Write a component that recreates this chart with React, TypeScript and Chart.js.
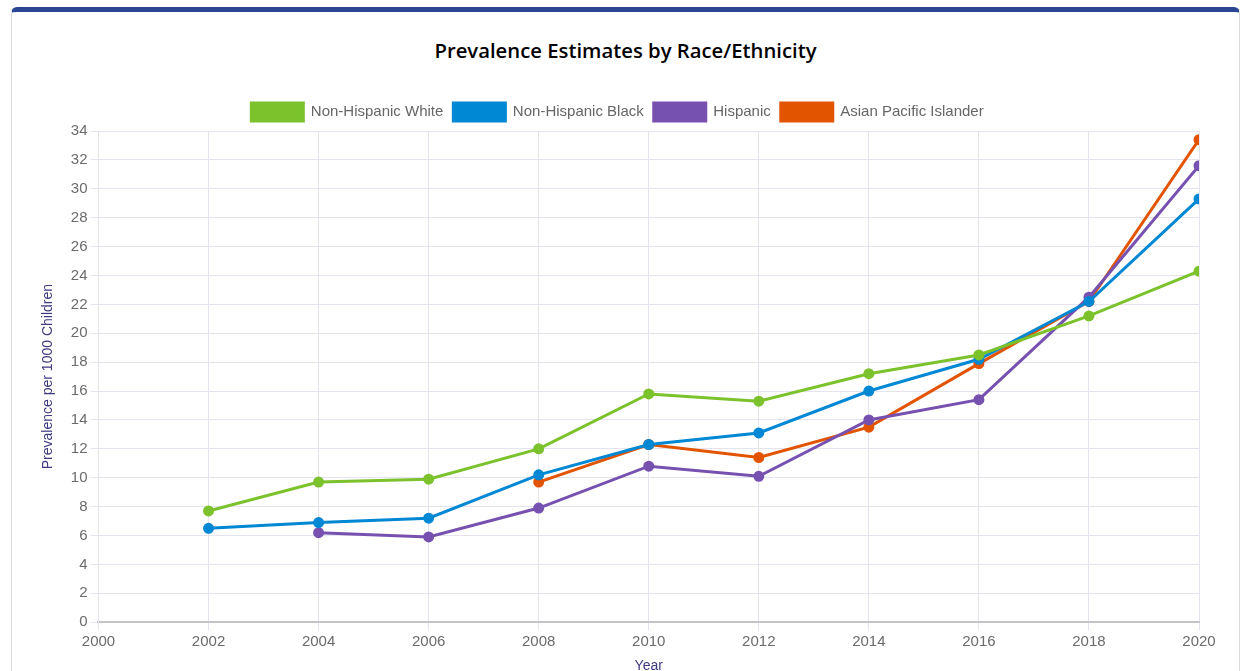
import React, { useEffect, useRef } from "react";
import { Chart, registerables } from "chart.js";

Chart.register(...registerables);

const years = [2002, 2004, 2006, 2008, 2010, 2012, 2014, 2016, 2018, 2020];
const white = [7.7, 9.7, 9.9, 12.0, 15.8, 15.3, 17.2, 18.5, 21.2, 24.3];
const black = [6.5, 6.9, 7.2, 10.2, 12.3, 13.1, 16.0, 18.2, 22.2, 29.3];
const hispanic = [null, 6.2, 5.9, 7.9, 10.8, 10.1, 14.0, 15.4, 22.5, 31.6];
const asianPI = [null, null, null, 9.7, 12.3, 11.4, 13.5, 17.9, 22.2, 33.4];

const seriesNames = ["Non-Hispanic White", "Non-Hispanic Black", "Hispanic", "Asian Pacific Islander"];
const seriesColors = ["#7bc22c", "#0088d4", "#7651b0", "#e35400"];
const seriesValues = [white, black, hispanic, asianPI];

const titleText = "Prevalence Estimates by Race/Ethnicity";
const yTitle = "Prevalence per 1000 Children";
const xTitle = "Year";

export default function App() {
  const ref = useRef<HTMLCanvasElement | null>(null);

  useEffect(() => {
    if (!ref.current) return;
    const datasets = seriesNames.map((name, i) => ({
      label: name,
      data: years
        .map((yr, j) => ({ x: yr, y: seriesValues[i][j] }))
        .filter((p) => p.y !== null),
      borderColor: seriesColors[i],
      backgroundColor: seriesColors[i],
      pointBackgroundColor: seriesColors[i],
      pointBorderColor: seriesColors[i],
      borderWidth: 3,
      pointRadius: 4,
      tension: 0,
    }));
    const chart = new Chart(ref.current, {
      type: "line",
      data: { datasets },
      options: {
        animation: false,
        responsive: true,
        maintainAspectRatio: false,
        layout: { padding: { left: 24, right: 40, top: 81, bottom: 0 } },
        plugins: {
          title: { display: false },
          legend: {
            labels: {
              boxWidth: 52,
              boxHeight: 18,
              color: "#666",
              font: { family: "'Liberation Sans', Arial, sans-serif", size: 15 },
              padding: 10,
            },
          },
          tooltip: { enabled: false },
        },
        scales: {
          x: {
            type: "linear",
            min: 2000,
            max: 2020,
            ticks: {
              stepSize: 2,
              color: "#6b6b6b",
              font: { family: "'Liberation Sans', Arial, sans-serif", size: 15 },
              callback: (v: any) => String(v),
            },
            grid: { color: "#e4e3ee" },
            border: { color: "#c4c4c4", width: 2 },
            title: {
              display: true,
              text: xTitle,
              color: "#3f3a80",
              font: { family: "'Liberation Sans', Arial, sans-serif", size: 14 },
            },
          },
          y: {
            min: 0,
            max: 34,
            ticks: {
              stepSize: 2,
              color: "#6b6b6b",
              font: { family: "'Liberation Sans', Arial, sans-serif", size: 15 },
            },
            grid: { color: "#e4e3ee" },
            border: { color: "#e4e3ee" },
            title: {
              display: true,
              text: yTitle,
              color: "#3f3a80",
              font: { family: "'Liberation Sans', Arial, sans-serif", size: 14 },
              padding: { top: 4, bottom: 11 },
            },
          },
        },
      },
    });
    return () => chart.destroy();
  }, []);

  return (
    <div
      style={{
        position: "fixed",
        left: 11,
        top: 7,
        width: 1229,
        height: 720,
        background: "#fff",
        borderTop: "5px solid #2a4591",
        borderLeft: "1px solid #dcdcdc",
        borderRight: "1px solid #dcdcdc",
        borderRadius: 6,
        boxSizing: "border-box",
      }}
    >
      <div
        style={{
          position: "absolute",
          left: 0,
          top: 26,
          width: 1227,
          textAlign: "center",
          fontFamily: "'Open Sans', sans-serif",
          fontWeight: 600,
          fontSize: "20.3px",
          lineHeight: "24px",
          color: "#000",
        }}
      >
        {titleText}
      </div>
      <div style={{ position: "absolute", left: 0, top: 0, width: 1227, height: 667 }}>
        <canvas ref={ref} />
      </div>
    </div>
  );
}
